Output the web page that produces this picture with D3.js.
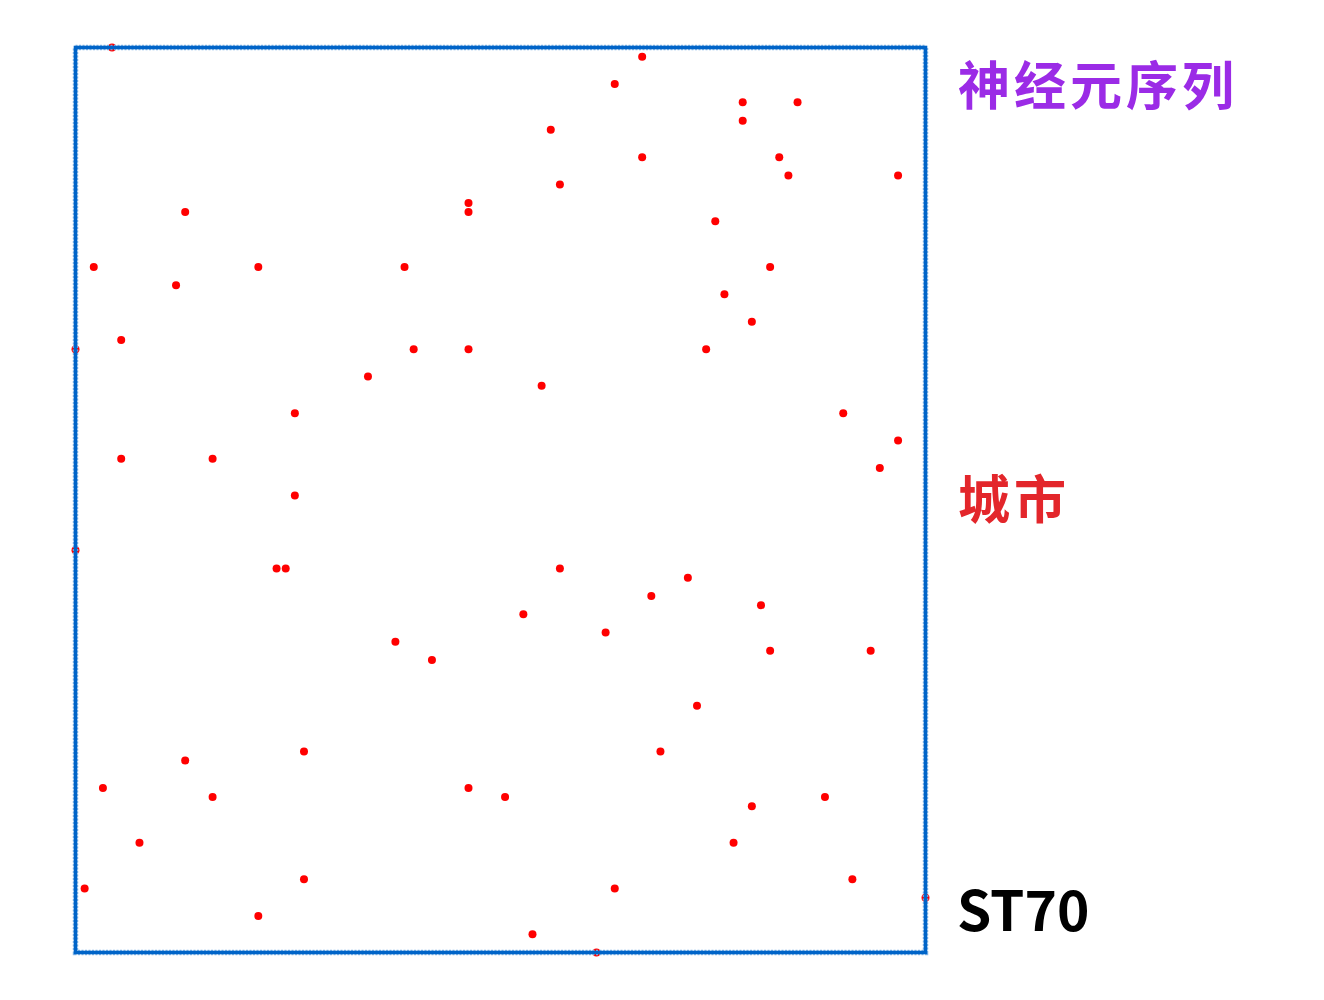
<!DOCTYPE html>
<html><head><meta charset="utf-8">
<script src="https://cdn.jsdelivr.net/npm/d3@7"></script>
<style>body{margin:0;background:#fff}</style>
</head><body>
<svg id="c" width="1324" height="1000"></svg>
<script>
// ST70 city coordinates
const cityX = [64,80,69,72,48,58,81,79,30,42,7,29,78,64,95,57,40,68,92,62,28,76,67,93,6,87,30,77,78,55,82,73,20,27,95,67,48,75,8,20,54,63,44,52,12,25,58,5,90,41,25,37,56,10,98,16,89,48,81,29,17,5,79,9,17,74,10,48,83,84];
const cityY = [96,39,23,42,67,43,34,17,23,67,76,51,92,8,57,91,35,40,34,1,43,73,88,54,8,18,9,13,94,3,88,28,55,43,86,99,83,81,19,18,38,36,33,18,13,5,85,67,9,76,76,64,63,55,7,74,60,82,76,60,22,45,70,100,82,67,68,19,86,94];
const labels = ["神经元序列","城市","ST70"];

const svg = d3.select("#c");
const x = d3.scaleLinear().domain([d3.min(cityX), d3.max(cityX)]).range([75.5,925.5]);
const y = d3.scaleLinear().domain([d3.min(cityY), d3.max(cityY)]).range([952.5,47.5]);

const pts = cityX.map((v,i)=>({x:v,y:cityY[i]}));
svg.append("g").selectAll("circle").data(pts).join("circle")
  .attr("cx",d=>x(d.x)).attr("cy",d=>y(d.y)).attr("r",4).attr("fill","#ff0000");

const [x0,x1] = x.range(), [y1,y0] = y.range();
svg.append("rect").attr("x",x0).attr("y",y0).attr("width",x1-x0).attr("height",y1-y0)
  .attr("fill","none").attr("stroke","#8fbde8").attr("stroke-width",5.5).attr("stroke-dasharray","2,1.5");
svg.append("rect").attr("x",x0).attr("y",y0).attr("width",x1-x0).attr("height",y1-y0)
  .attr("fill","none").attr("stroke","#0064c8").attr("stroke-width",3.6);

const cjk = "'Noto Sans CJK SC','Noto Sans',sans-serif";
svg.append("text").attr("x",958).attr("y",82).attr("dominant-baseline","central")
  .attr("font-family",cjk).attr("font-weight","bold").attr("font-size",52).attr("letter-spacing",4)
  .attr("fill","#9b2be6").text(labels[0]);
svg.append("text").attr("x",958).attr("y",496).attr("dominant-baseline","central")
  .attr("font-family",cjk).attr("font-weight","bold").attr("font-size",52).attr("letter-spacing",4)
  .attr("fill","#e3262b").text(labels[1]);
svg.append("text").attr("x",957).attr("y",931)
  .attr("font-family",cjk).attr("font-weight","bold").attr("font-size",55).attr("letter-spacing",0)
  .attr("fill","#000").text(labels[2]);
</script>
</body></html>
